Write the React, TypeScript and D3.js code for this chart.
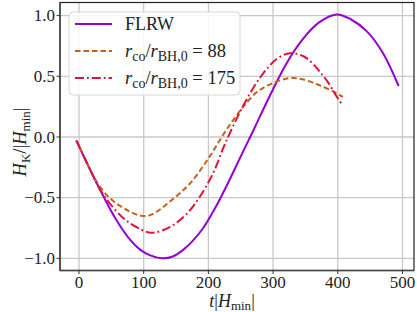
import { scaleLinear, line, curveCatmullRom } from 'd3'

// values
const flrwT = [-4, 10, 20, 35, 55, 75, 95, 110, 130, 145, 161, 175, 192, 210, 233, 250, 270, 295, 320, 345, 370, 398, 420, 445, 470, 494]
const flrwH = [-0.03, -0.19, -0.3, -0.46, -0.66, -0.82, -0.93, -0.975, -1.0, -0.985, -0.93, -0.86, -0.75, -0.59, -0.35, -0.16, 0.06, 0.34, 0.6, 0.8, 0.94, 1.01, 0.97, 0.87, 0.69, 0.42]

const r88T = [-4, 10, 25, 45, 70, 97, 112, 141, 172, 202, 223, 241, 254, 275, 300, 326, 345, 370, 395, 408]
const r88H = [-0.03, -0.19, -0.35, -0.49, -0.59, -0.65, -0.64, -0.53, -0.38, -0.16, 0.02, 0.16, 0.25, 0.37, 0.445, 0.485, 0.475, 0.43, 0.37, 0.33]

const r175T = [-4, 10, 20, 30, 45, 71, 97, 112, 141, 167, 187, 208, 223, 233, 254, 280, 305, 326, 347, 362, 372, 385, 398, 407]
const r175H = [-0.03, -0.19, -0.3, -0.41, -0.53, -0.68, -0.765, -0.79, -0.74, -0.63, -0.49, -0.29, -0.09, 0.03, 0.26, 0.49, 0.64, 0.69, 0.665, 0.6, 0.54, 0.45, 0.335, 0.265]

const xTicks = [0, 100, 200, 300, 400, 500]
const yTicks = [-1.0, -0.5, 0.0, 0.5, 1.0]
const legendLabels = ['88', '175']

const W = 417
const H = 312
const left = 60
const right = 414
const top = 2.5
const bottom = 270.5
const font = '"Liberation Serif", "Times New Roman", serif'

const series = [
  { t: flrwT, h: flrwH, color: '#9400D3', dash: undefined as string | undefined },
  { t: r88T, h: r88H, color: '#C8601A', dash: '5.5 3' },
  { t: r175T, h: r175H, color: '#DC143C', dash: '9 3 1.8 3' },
]

function fmt(v: number) {
  const s = Math.abs(v).toFixed(1)
  return v < 0 ? '\u2212' + s : s
}

export default function App() {
  const x = scaleLinear().domain([-29.4, 517.8]).range([left, right])
  const y = scaleLinear().domain([-1.1, 1.108]).range([bottom, top])
  const path = line<[number, number]>()
    .x((d) => x(d[0]))
    .y((d) => y(d[1]))
    .curve(curveCatmullRom.alpha(0.5))

  return (
    <svg width={W} height={H} style={{ position: 'absolute', left: 0, top: 0, background: '#fff' }} fontFamily={font}>
      {xTicks.map((t) => (
        <line key={`gx${t}`} x1={x(t)} x2={x(t)} y1={top} y2={bottom} stroke="#c8c8c8" strokeWidth={1.3} />
      ))}
      {yTicks.map((v) => (
        <line key={`gy${v}`} x1={left} x2={right} y1={y(v)} y2={y(v)} stroke="#c8c8c8" strokeWidth={1.3} />
      ))}

      {series.map((s, i) => (
        <path
          key={i}
          d={path(s.t.map((t, k) => [t, s.h[k]] as [number, number])) || ''}
          fill="none"
          stroke={s.color}
          strokeWidth={2}
          strokeDasharray={s.dash}
        />
      ))}

      <rect x={left} y={top} width={right - left} height={bottom - top} fill="none" stroke="#222" strokeWidth={1.2} />
      <line x1={left} x2={left} y1={top} y2={bottom} stroke="#555" strokeWidth={2} />
      <line x1={left} x2={right} y1={bottom} y2={bottom} stroke="#444" strokeWidth={1.6} />

      {xTicks.map((t) => (
        <g key={`tx${t}`}>
          <line x1={x(t)} x2={x(t)} y1={bottom} y2={bottom + 3.5} stroke="#333" strokeWidth={1} />
          <text x={x(t)} y={288} textAnchor="middle" fontSize={17} fill="#222">
            {t}
          </text>
        </g>
      ))}
      {yTicks.map((v) => (
        <g key={`ty${v}`}>
          <line x1={left - 3.5} x2={left} y1={y(v)} y2={y(v)} stroke="#333" strokeWidth={1} />
          <text x={55} y={y(v) + 5.8} textAnchor="end" fontSize={17} fill="#222">
            {fmt(v)}
          </text>
        </g>
      ))}

      <text x={232} y={306.5} textAnchor="middle" fontSize={18} fill="#222">
        <tspan fontStyle="italic">t</tspan>
        <tspan>|</tspan>
        <tspan fontStyle="italic">H</tspan>
        <tspan fontSize={13} dy={3}>min</tspan>
        <tspan dy={-3}>|</tspan>
      </text>

      <text transform="translate(26,142) rotate(-90)" textAnchor="middle" fontSize={18.5} fill="#222">
        <tspan fontStyle="italic">H</tspan>
        <tspan fontSize={13} dy={3.5}>K</tspan>
        <tspan dy={-3.5}>/|</tspan>
        <tspan fontStyle="italic">H</tspan>
        <tspan fontSize={13} dy={3.5}>min</tspan>
        <tspan dy={-3.5}>|</tspan>
      </text>

      <g>
        <rect x={69} y={12} width={171} height={83} rx={4} fill="#fff" fillOpacity={0.85} stroke="#d6d6d6" strokeWidth={1} />
        {series.map((s, i) => (
          <line
            key={`lg${i}`}
            x1={75}
            x2={112}
            y1={24 + i * 27}
            y2={24 + i * 27}
            stroke={s.color}
            strokeWidth={2}
            strokeDasharray={s.dash}
          />
        ))}
        <text x={125} y={30} fontSize={18} fill="#222">
          FLRW
        </text>
        {legendLabels.map((lab, i) => (
          <text key={lab} x={125} y={57 + i * 27} fontSize={18.5} fill="#222">
            <tspan fontStyle="italic">r</tspan>
            <tspan fontSize={14} dy={3.5}>co</tspan>
            <tspan dy={-3.5}>/</tspan>
            <tspan fontStyle="italic">r</tspan>
            <tspan fontSize={14} dy={3.5}>BH,0</tspan>
            <tspan dy={-3.5}>{` = ${lab}`}</tspan>
          </text>
        ))}
      </g>
    </svg>
  )
}
